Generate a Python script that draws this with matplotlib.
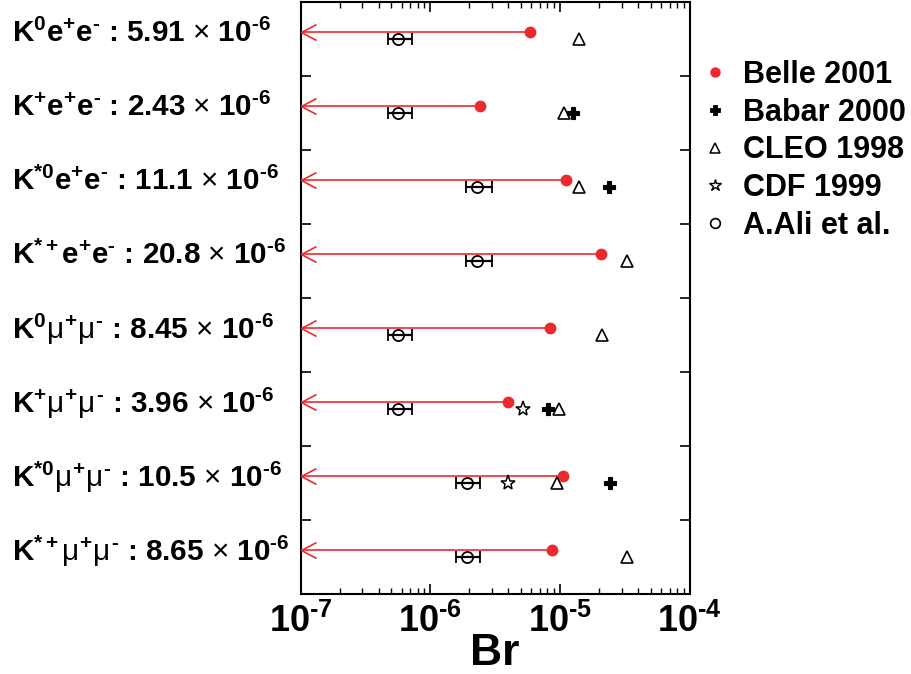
import numpy as np
import matplotlib
matplotlib.use('Agg')
import matplotlib.pyplot as plt
from matplotlib.path import Path
from matplotlib.lines import Line2D
from matplotlib.transforms import blended_transform_factory
from matplotlib.ticker import FuncFormatter, LogLocator, NullFormatter, FixedLocator

plt.rcParams['font.family'] = ['Liberation Sans', 'DejaVu Sans']
plt.rcParams['font.weight'] = 'bold'
plt.rcParams['mathtext.fontset'] = 'custom'
plt.rcParams['mathtext.rm'] = 'Liberation Sans:weight=bold'
plt.rcParams['mathtext.bf'] = 'Liberation Sans:weight=bold'
plt.rcParams['mathtext.it'] = 'Liberation Sans:weight=normal'
plt.rcParams['mathtext.sf'] = 'Liberation Sans:weight=normal'

HY = '\u2010'  # short hyphen used in superscripts

# ---- data (units of 1e-6) ----
channels = [r'$\mathrm{K}^{0}\mathrm{e}^{+}\mathrm{e}^{' + HY + '}$',
            r'$\mathrm{K}^{+}\mathrm{e}^{+}\mathrm{e}^{' + HY + '}$',
            r'$\mathrm{K}^{*0}\mathrm{e}^{+}\mathrm{e}^{' + HY + '}$',
            r'$\mathrm{K}^{*+}\mathrm{e}^{+}\mathrm{e}^{' + HY + '}$',
            r'$\mathrm{K}^{0}\mu^{+}\mu^{' + HY + '}$',
            r'$\mathrm{K}^{+}\mu^{+}\mu^{' + HY + '}$',
            r'$\mathrm{K}^{*0}\mu^{+}\mu^{' + HY + '}$',
            r'$\mathrm{K}^{*+}\mu^{+}\mu^{' + HY + '}$']
belle = [5.91, 2.43, 11.1, 20.8, 8.45, 3.96, 10.5, 8.65]
babar = [np.nan, 12.6, 24.1, np.nan, np.nan, 8.1, 24.4, np.nan]
cleo = [14.0, 10.7, 14.0, 33.0, 21.0, 9.8, 9.5, 33.0]
cdf = [np.nan, np.nan, np.nan, np.nan, np.nan, 5.2, 4.0, np.nan]
ali = [0.565, 0.565, 2.3, 2.3, 0.565, 0.565, 1.92, 1.92]
ali_lo = [0.473, 0.473, 1.9, 1.9, 0.473, 0.473, 1.59, 1.59]
ali_hi = [0.729, 0.729, 2.99, 2.99, 0.729, 0.729, 2.41, 2.41]
legend_labels = ['Belle 2001', 'Babar 2000', 'CLEO 1998', 'CDF 1999', 'A.Ali et al.']
scale = 1e-6
xmin, xmax = 1e-7, 1e-4

n = len(channels)
yc = np.arange(n)[::-1] + 0.5
yb = yc + 0.1

belle_v = np.array(belle) * scale
babar_v = np.array(babar) * scale
cleo_v = np.array(cleo) * scale
cdf_v = np.array(cdf) * scale
ali_v = np.array(ali) * scale
ali_err = [ali_v - np.array(ali_lo) * scale, np.array(ali_hi) * scale - ali_v]

red = '#ec2a2e'

fig = plt.figure(figsize=(9.11, 6.74), dpi=100)
ax = fig.add_axes([0.330, 0.1187, 0.427, 0.878])
ax.set_xscale('log')
ax.set_xlim(xmin, xmax)
ax.set_ylim(0, n)

# Belle upper limits: line + open arrow head at left
ax.hlines(yb, xmin, belle_v, color=red, lw=1.2, zorder=3)
arrow = Path([(1, 0.53), (0, 0), (1, -0.53)], [Path.MOVETO, Path.LINETO, Path.LINETO])
ax.plot(np.full(n, xmin), yb, linestyle='none', marker=arrow, markersize=21.6,
        markerfacecolor='none', markeredgecolor=red, markeredgewidth=1.2, clip_on=False, zorder=3)
ax.plot(belle_v, yb, 'o', color=red, markersize=7.5, zorder=4)
ax.plot(babar_v, yc, 'P', color='black', markersize=8.5, markeredgewidth=0.8, zorder=4)
ax.plot(cleo_v, yc, '^', markerfacecolor='none', markeredgecolor='black', markersize=9,
        markeredgewidth=1.2, zorder=4)
ax.plot(cdf_v, yc, '*', markerfacecolor='none', markeredgecolor='black', markersize=11,
        markeredgewidth=1.1, zorder=4)
ax.errorbar(ali_v, yc, xerr=ali_err, fmt='o', markerfacecolor='none', markeredgecolor='black',
            markersize=8, markeredgewidth=1.3, ecolor='black', elinewidth=1.6, capsize=4.5,
            capthick=1.6, zorder=4)

# channel labels
tr = blended_transform_factory(fig.transFigure, ax.transData)
for lab, v, y in zip(channels, belle, yc):
    ax.text(12 / 911, y + 0.075,
            lab + ' : ' + f'{v:.3g}' + r' $\mathsf{\times}$ 10$^{' + HY + '6}$',
            transform=tr, fontsize=21.3, fontweight='bold', va='center', ha='left')

# axes styling
for s in ax.spines.values():
    s.set_linewidth(1.5)
ax.yaxis.set_major_locator(FixedLocator(np.arange(1, n)))
ax.yaxis.set_major_formatter(NullFormatter())
ax.tick_params(axis='y', which='both', direction='in', left=True, right=True, length=7, width=1.2)
ax.xaxis.set_major_locator(LogLocator(base=10, numticks=10))
ax.xaxis.set_minor_locator(LogLocator(base=10, subs=np.arange(2, 10), numticks=20))
ax.xaxis.set_minor_formatter(NullFormatter())
ax.xaxis.set_major_formatter(FuncFormatter(
    lambda v, p: r'$\mathbf{10^{' + HY + '%d}}$' % abs(round(np.log10(v)))))
ax.tick_params(axis='x', which='major', direction='in', top=True, bottom=True, length=7, width=1.2,
               labelsize=26, pad=7)
ax.tick_params(axis='x', which='minor', direction='in', top=True, bottom=True, length=4, width=1.0)
fig.text(0.5 * (0.330 + 0.757), 1 - 665 / 674, 'Br', fontsize=32, fontweight='bold',
         ha='center', va='baseline')

# legend (proxy handles)
handles = [
    Line2D([], [], linestyle='none', marker='o', color=red, markersize=6.5),
    Line2D([], [], linestyle='none', marker='P', color='black', markersize=7.5, markeredgewidth=0.6),
    Line2D([], [], linestyle='none', marker='^', markerfacecolor='none', markeredgecolor='black',
           markersize=7.5, markeredgewidth=1.1),
    Line2D([], [], linestyle='none', marker='*', markerfacecolor='none', markeredgecolor='black',
           markersize=9, markeredgewidth=1.0),
    Line2D([], [], linestyle='none', marker='o', markerfacecolor='none', markeredgecolor='black',
           markersize=7, markeredgewidth=1.2),
]
leg = fig.legend(handles, legend_labels, loc='upper left', bbox_to_anchor=(703 / 911, 1 - 60 / 674),
                 frameon=False, fontsize=22, handlelength=0.8, handletextpad=0.5, labelspacing=0.25,
                 borderpad=0, borderaxespad=0, numpoints=1)

fig.savefig('out.png', dpi=100)
